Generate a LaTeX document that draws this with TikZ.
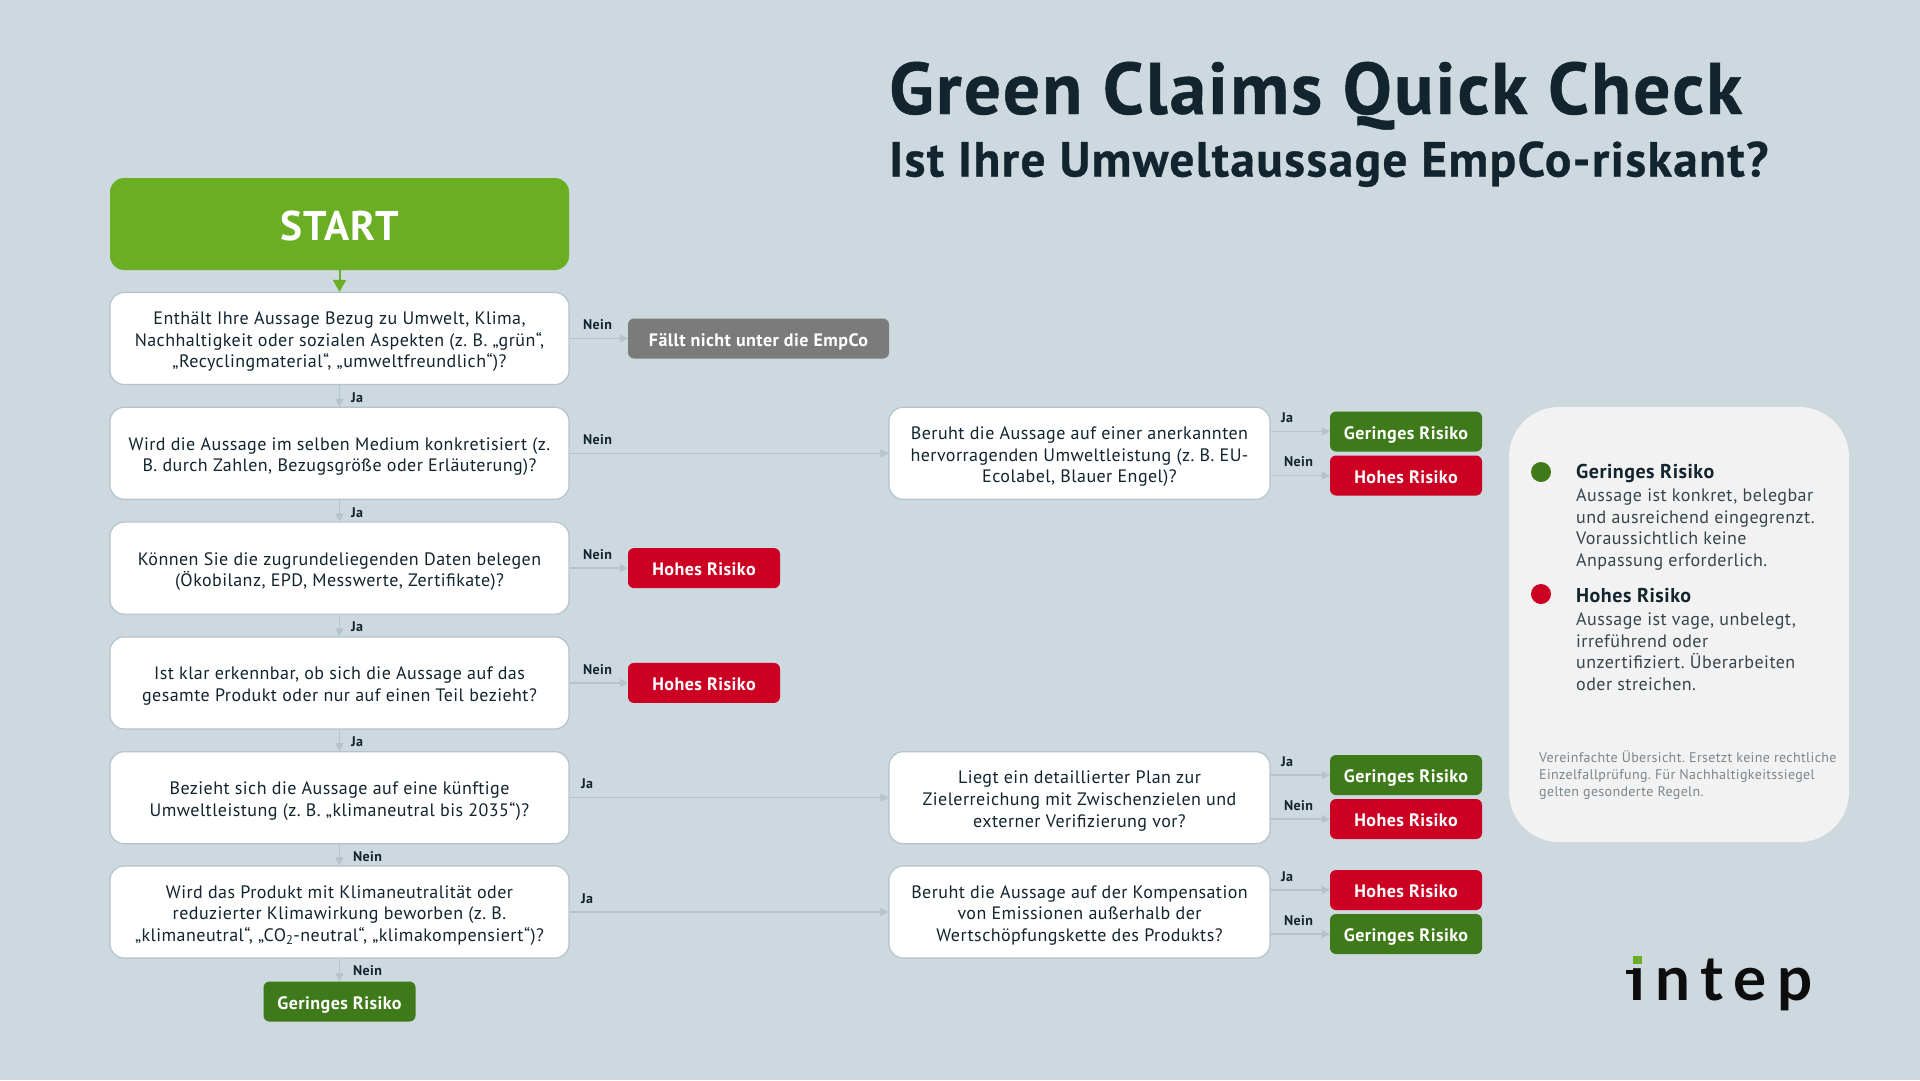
\documentclass[tikz,border=0pt]{standalone}
\usepackage{fontspec}
\usetikzlibrary{arrows.meta}
\setmainfont[LetterSpace=2.5]{PT Sans}
\newfontfamily\titlef[LetterSpace=3,FakeBold=0.6]{PT Sans Bold}
\newfontfamily\logof[LetterSpace=17]{Lato Bold}
\frenchspacing
\newcommand{\qs}{\rule{0pt}{19.5pt}}
\definecolor{bg}{HTML}{CDD8DF}
\definecolor{ink}{HTML}{12242E}
\definecolor{edge}{HTML}{B5C3CD}
\definecolor{startg}{HTML}{6AAF23}
\definecolor{lowg}{HTML}{3F7A1A}
\definecolor{highr}{HTML}{CC0022}
\definecolor{grayb}{HTML}{7B7B7B}
\definecolor{panel}{HTML}{F2F2F2}
\definecolor{notec}{HTML}{7B868D}
\definecolor{logok}{HTML}{0D0D0D}
\tikzset{
 qbox/.style={draw=edge,line width=1.2pt,fill=white,rounded corners=14pt,minimum height=92pt,inner sep=0pt,align=center,text=ink,font=\fontsize{18}{21.7}\selectfont},
 qleft/.style={qbox,minimum width=459pt},
 qright/.style={qbox,minimum width=381pt},
 risk/.style={rounded corners=6pt,minimum height=40pt,inner sep=0pt,text=white,text height=15pt,text depth=0pt,font=\fontsize{18}{21}\selectfont\bfseries},
 small/.style={risk,minimum width=152pt},
 low/.style={small,fill=lowg},
 high/.style={small,fill=highr},
 conn/.style={draw=edge,line width=1.5pt,-{Triangle[length=8pt,width=8pt]}},
 lab/.style={anchor=west,inner sep=0pt,text=ink,font=\fontsize{14}{16}\selectfont\bfseries},
 legh/.style={anchor=base west,inner sep=0pt,text=ink,font=\fontsize{20}{24}\selectfont\bfseries},
 legb/.style={anchor=north west,inner sep=0pt,align=left,text=ink!85,font=\fontsize{18}{21.7}\selectfont},
}
\begin{document}
\begin{tikzpicture}[x=1pt,y=-1pt]
\useasboundingbox[fill=bg] (0,0) rectangle (1920,1080);
% title
\node[anchor=base west,inner sep=0pt,text=ink,font=\fontsize{73.2}{80}\selectfont\titlef] (title) at (889,114) {Green Claims Quick Check};
\node[anchor=base west,inner sep=0pt,text=ink,font=\fontsize{49.2}{56}\selectfont\titlef] (subtitle) at (889,176.5) {Ist Ihre Umweltaussage EmpCo-riskant?};
% start
\node[fill=startg,rounded corners=14pt,minimum width=459pt,minimum height=92pt,inner sep=0pt,text=white,text height=33pt,text depth=0pt,font=\fontsize{41.5}{44}\selectfont\bfseries] (start) at (339.5,224) {START};
% questions
\node[qleft] (q1) at (339.5,338.5) {\qs Enthält Ihre Aussage Bezug zu Umwelt, Klima,\\Nachhaltigkeit oder sozialen Aspekten (z. B. „grün“,\\„Recyclingmaterial“, „umweltfreundlich“)?};
\node[qleft] (q2) at (339.5,453.3) {\qs Wird die Aussage im selben Medium konkretisiert (z.\\B. durch Zahlen, Bezugsgröße oder Erläuterung)?};
\node[qleft] (q3) at (339.5,568.1) {\qs Können Sie die zugrundeliegenden Daten belegen\\(Ökobilanz, EPD, Messwerte, Zertifikate)?};
\node[qleft] (q4) at (339.5,682.9) {\qs Ist klar erkennbar, ob sich die Aussage auf das\\gesamte Produkt oder nur auf einen Teil bezieht?};
\node[qleft] (q5) at (339.5,797.7) {\qs Bezieht sich die Aussage auf eine künftige\\Umweltleistung (z. B. „klimaneutral bis 2035“)?};
\node[qleft] (q6) at (339.5,912) {\qs Wird das Produkt mit Klimaneutralität oder\\reduzierter Klimawirkung beworben (z. B.\\„klimaneutral“, „CO\textsubscript{2}-neutral“, „klimakompensiert“)?};
\node[qright] (x2) at (1079.5,453.3) {\qs Beruht die Aussage auf einer anerkannten\\hervorragenden Umweltleistung (z. B. EU-\\Ecolabel, Blauer Engel)?};
\node[qright] (x5) at (1079.5,797.7) {\qs Liegt ein detaillierter Plan zur\\Zielerreichung mit Zwischenzielen und\\externer Verifizierung vor?};
\node[qright] (x6) at (1079.5,912) {\qs Beruht die Aussage auf der Kompensation\\von Emissionen außerhalb der\\Wertschöpfungskette des Produkts?};
% outcomes
\node[risk,fill=grayb,minimum width=261pt] (out1) at (758.5,338.5) {Fällt nicht unter die EmpCo};
\node[high] (out3) at (704,568.1) {Hohes Risiko};
\node[high] (out4) at (704,682.9) {Hohes Risiko};
\node[low] (a2) at (1406,431.5) {Geringes Risiko};
\node[high] (b2) at (1406,475.5) {Hohes Risiko};
\node[low] (a5) at (1406,775) {Geringes Risiko};
\node[high] (b5) at (1406,819) {Hohes Risiko};
\node[high] (a6) at (1406,890) {Hohes Risiko};
\node[low] (b6) at (1406,934) {Geringes Risiko};
\node[low] (end) at (339.5,1001.5) {Geringes Risiko};
% connectors
\draw[line width=2pt,draw=startg,-{Triangle[length=12pt,width=13pt]},startg] (start) -- (q1);
\foreach \p/\n in {q1/q2,q2/q3,q3/q4,q4/q5,q5/q6,q6/end}{\draw[conn] (\p) -- (\n);}
\draw[conn] (q1) -- (out1);
\draw[conn] (q2) -- (x2);
\draw[conn] (q3) -- (out3);
\draw[conn] (q4) -- (out4);
\draw[conn] (q5) -- (x5);
\draw[conn] (q6) -- (x6);
\foreach \p/\n in {x2/a2,x2/b2,x5/a5,x5/b5,x6/a6,x6/b6}{\draw[conn] (\p.east |- \n.west) -- (\n.west);}
% labels
\node[lab] (l1) at (583,325) {Nein};
\node[lab] (l2) at (583,440) {Nein};
\node[lab] (l3) at (583,555) {Nein};
\node[lab] (l4) at (583,670) {Nein};
\node[lab] (l5) at (581,784) {Ja};
\node[lab] (l6) at (581,899) {Ja};
\node[lab] (d1) at (351,398) {Ja};
\node[lab] (d2) at (351,513) {Ja};
\node[lab] (d3) at (351,627) {Ja};
\node[lab] (d4) at (351,742) {Ja};
\node[lab] (d5) at (353,857) {Nein};
\node[lab] (d6) at (353,971) {Nein};
\node[lab] (r2a) at (1281,418) {Ja};
\node[lab] (r2b) at (1284,462) {Nein};
\node[lab] (r5a) at (1281,762) {Ja};
\node[lab] (r5b) at (1284,806) {Nein};
\node[lab] (r6a) at (1281,877) {Ja};
\node[lab] (r6b) at (1284,921) {Nein};
% legend
\node[fill=panel,rounded corners=50pt,minimum width=340pt,minimum height=435pt,inner sep=0pt] (panel) at (1679,624.5) {};
\node[circle,fill=lowg,minimum size=20pt,inner sep=0pt] (dot1) at (1541,472) {};
\node[circle,fill=highr,minimum size=20pt,inner sep=0pt] (dot2) at (1541,594) {};
\node[legh] (h1) at (1576,478) {Geringes Risiko};
\node[legb] (t1) at (1576,488.5) {Aussage ist konkret, belegbar\\und ausreichend eingegrenzt.\\Voraussichtlich keine\\Anpassung erforderlich.};
\node[legh] (h2) at (1576,602) {Hohes Risiko};
\node[legb] (t2) at (1576,612.5) {Aussage ist vage, unbelegt,\\irreführend oder\\unzertifiziert. Überarbeiten\\oder streichen.};
\node[anchor=north west,inner sep=0pt,align=left,text=notec,font=\fontsize{14}{17}\selectfont] (note) at (1539,751) {Vereinfachte Übersicht. Ersetzt keine rechtliche\\Einzelfallprüfung. Für Nachhaltigkeitssiegel\\gelten gesonderte Regeln.};
% logo
\node[anchor=base west,inner sep=0pt,text=logok,font=\fontsize{62}{66}\selectfont\logof] (logo) at (1629,1000) {ıntep};
\fill[logok] (1626,970) rectangle (1636,974);
\fill[startg] (1633,956) rectangle (1642,964);
\end{tikzpicture}
\end{document}
